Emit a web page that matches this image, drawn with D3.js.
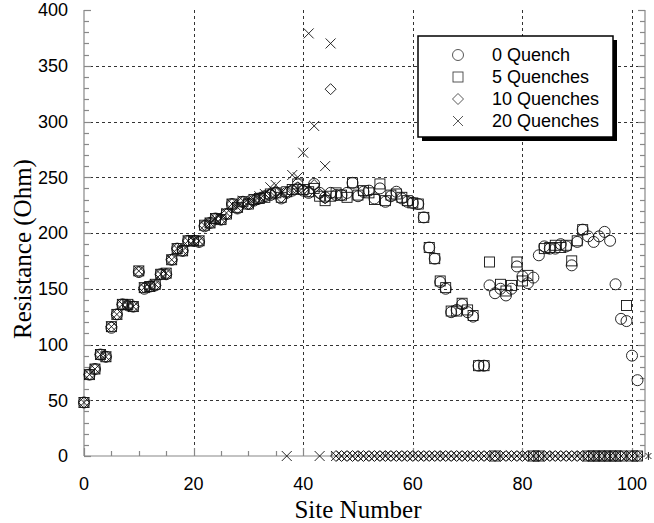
<!DOCTYPE html>
<html>
  <head>
    <meta charset="utf-8" />
    <title>resistance vs site</title>
    <script src="https://d3js.org/d3.v7.min.js"></script>
    <style>
      body { margin: 0; background: #fff; }
      text { font-family: "Liberation Sans", Arial, sans-serif; }
      .title { font-family: "Liberation Serif", "Times New Roman", serif; }
    </style>
  </head>
  <body>
    <script>
      // site numbers 0..101
      const sites = d3.range(0, 102);

      // 0 Quench (circles)
      const q0 = [48, 73, 78, 91, 89, 115, 127, 136, 135, 134, 165, 150, 152, 153, 163, 163, 176, 186, 184, 193,
        193, 192, 206, 209, 213, 212, 217, 226, 222, 228, 226, 229, 231, 233, 234, 236, 231, 236, 238, 240,
        238, 236, 244, 236, 232, 236, 234, 234, 236, 245, 233, 237, 238, 231, 240, 228, 233, 237, 231, 228,
        227, 226, 214, 187, 177, 156, 150, 129, 131, 136, 129, 125, 81, 81, 153, 146, 150, 144, 150, 170,
        161, 155, 160, 180, 188, 186, 186, 190, 188, 171, 192, 203, 197, 192, 197, 201, 193, 154, 123, 121,
        90, 68];

      // 5 Quenches (squares)
      const q5 = [48, 73, 78, 91, 89, 116, 127, 136, 136, 134, 166, 151, 152, 154, 163, 164, 176, 186, 184, 193,
        193, 193, 207, 209, 213, 212, 217, 226, 223, 228, 226, 230, 231, 232, 235, 236, 232, 237, 239, 244,
        239, 237, 240, 233, 229, 233, 236, 234, 232, 245, 234, 238, 236, 230, 244, 229, 234, 235, 232, 229,
        227, 226, 214, 187, 177, 157, 151, 130, 130, 137, 131, 126, 81, 81, 174, 0, 154, 148, 153, 174,
        157, 162, 0, 0, 186, 187, 189, 187, 189, 175, 193, 203, 0, 0, 0, 0, 0, 0, 0, 135,
        0, 0];

      // 10 Quenches (diamonds)
      const q10 = [48, 73, 78, 91, 89, 116, 127, 136, 135, 134, 165, 151, 152, 153, 163, 163, 176, 186, 184, 193,
        193, 192, 207, 209, 213, 212, 217, 226, 222, 228, 226, 229, 231, 233, 235, 237, 232, 236, 239, 241,
        239, 237, 243, 235, 231, 329, 0, 0, 0, 0, 0, 0, 0, 0, 0, 0, 0, 0, 0, 0,
        0, 0, 0, 0, 0, 0, 0, 0, 0, 0, 0, 0, 0, 0, 0, 0, 0, 0, 0, 0,
        0, 0, 0, 0, 0, 0, 0, 0, 0, 0, 0, 0, 0, 0, 0, 0, 0, 0, 0, 0,
        0, 0];

      // 20 Quenches (crosses)
      const q20 = [48, 73, 78, 91, 89, 116, 127, 136, 135, 134, 166, 151, 152, 154, 163, 164, 176, 186, 184, 193,
        193, 193, 207, 209, 213, 213, 218, 226, 223, 229, 227, 230, 233, 235, 241, 243, 236, 0, 252, 250,
        272, 379, 296, 0, 260, 370, 0, 0, 0, 0, 0, 0, 0, 0, 0, 0, 0, 0, 0, 0,
        0, 0, 0, 0, 0, 0, 0, 0, 0, 0, 0, 0, 0, 0, 0, 0, 0, 0, 0, 0,
        0, 0, 0, 0, 0, 0, 0, 0, 0, 0, 0, 0, 0, 0, 0, 0, 0, 0, 0, 0,
        0, 0];

      // one stray point just past the right axis
      const edgeSites = [103];
      const edgeQ20 = [0];

      const legendLabels = ["0 Quench", "5 Quenches", "10 Quenches", "20 Quenches"];
      const xTicks = [0, 20, 40, 60, 80, 100];
      const yTicks = [0, 50, 100, 150, 200, 250, 300, 350, 400];

      const width = 654, height = 523;
      const pLeft = 84, pRight = 645, pTop = 10, pBottom = 456;

      const x = d3.scaleLinear().domain([0, 100]).range([84, 632]);
      const y = d3.scaleLinear().domain([0, 400]).range([pBottom, pTop]);

      const svg = d3.select("body").append("svg")
        .attr("width", width)
        .attr("height", height);

      // grid
      const grid = svg.append("g")
        .attr("stroke", "#333")
        .attr("stroke-width", 1)
        .attr("stroke-dasharray", "3,3");
      grid.selectAll(".vg").data(xTicks.filter(d => d > 0)).enter().append("line")
        .attr("x1", d => Math.round(x(d)) + 0.5).attr("x2", d => Math.round(x(d)) + 0.5)
        .attr("y1", pTop).attr("y2", pBottom);
      grid.selectAll(".hg").data(yTicks.filter(d => d > 0 && d < 400)).enter().append("line")
        .attr("y1", d => Math.round(y(d)) + 0.5).attr("y2", d => Math.round(y(d)) + 0.5)
        .attr("x1", pLeft).attr("x2", pRight);

      // axes frame (left, bottom, right)
      const axisColor = "#888";
      const frame = svg.append("g").attr("stroke", axisColor).attr("stroke-width", 1.2);
      frame.append("line").attr("x1", pLeft).attr("x2", pLeft).attr("y1", pTop).attr("y2", pBottom);
      frame.append("line").attr("x1", pRight).attr("x2", pRight).attr("y1", pTop).attr("y2", pBottom);
      frame.append("line").attr("x1", pLeft).attr("x2", pRight).attr("y1", pBottom).attr("y2", pBottom);

      // y ticks, major every 50, minor every 10, pointing inward on both sides
      d3.range(0, 401, 10).forEach(v => {
        const len = v % 50 === 0 ? 7 : 5;
        const yy = Math.round(y(v)) + 0.5;
        frame.append("line").attr("x1", pLeft).attr("x2", pLeft + len).attr("y1", yy).attr("y2", yy);
        frame.append("line").attr("x1", pRight).attr("x2", pRight - len).attr("y1", yy).attr("y2", yy);
      });
      // x ticks, major every 20, minor every 5
      d3.range(0, 101, 5).forEach(v => {
        const len = v % 20 === 0 ? 8 : 5;
        const xx = Math.round(x(v)) + 0.5;
        frame.append("line").attr("x1", xx).attr("x2", xx).attr("y1", pBottom).attr("y2", pBottom - len);
      });

      // tick labels
      svg.selectAll(".yl").data(yTicks).enter().append("text")
        .attr("x", 68).attr("y", d => y(d))
        .attr("dy", "0.36em")
        .attr("text-anchor", "end")
        .attr("font-size", 18)
        .text(d => d);
      svg.selectAll(".xl").data(xTicks).enter().append("text")
        .attr("x", d => x(d)).attr("y", 490)
        .attr("text-anchor", "middle")
        .attr("font-size", 18)
        .text(d => d);

      // axis titles
      svg.append("text").attr("class", "title")
        .attr("x", 358).attr("y", 518)
        .attr("text-anchor", "middle")
        .attr("font-size", 25)
        .text("Site Number");
      svg.append("text").attr("class", "title")
        .attr("transform", "translate(31,249) rotate(-90)")
        .attr("text-anchor", "middle")
        .attr("font-size", 25)
        .text("Resistance (Ohm)");

      // symbols
      const sym = {
        circle: g => g.append("circle").attr("r", 5.5),
        square: g => g.append("rect").attr("x", -5).attr("y", -5).attr("width", 10).attr("height", 10),
        diamond: g => g.append("path").attr("d", "M0,-5.5L5.5,0L0,5.5L-5.5,0Z"),
        cross: g => g.append("path").attr("d", "M-5,-5L5,5M-5,5L5,-5"),
        star: g => g.append("path").attr("d", "M-3,-3L3,3M-3,3L3,-3M0,-4V4")
      };
      const kinds = ["circle", "square", "diamond", "cross"];

      function drawSeries(xs, vals, kind) {
        const g = svg.append("g")
          .attr("fill", "none")
          .attr("stroke", "#111")
          .attr("stroke-width", 0.9);
        const pts = g.selectAll("g").data(xs.map((s, i) => [s, vals[i]])).enter().append("g")
          .attr("transform", d => `translate(${x(d[0])},${y(d[1])})`);
        pts.each(function () { sym[kind](d3.select(this)); });
      }

      drawSeries(sites, q0, "circle");
      drawSeries(sites, q5, "square");
      drawSeries(sites, q10, "diamond");
      drawSeries(sites, q20, "cross");
      drawSeries(edgeSites, edgeQ20, "star");

      // legend with drop shadow
      const lg = svg.append("g");
      lg.append("rect").attr("x", 422).attr("y", 40).attr("width", 195).attr("height", 101).attr("fill", "#000");
      lg.append("rect").attr("x", 418).attr("y", 36).attr("width", 195).attr("height", 101)
        .attr("fill", "#fff").attr("stroke", "#000").attr("stroke-width", 1.5);
      legendLabels.forEach((lab, i) => {
        const yy = 55 + i * 22;
        const s = lg.append("g")
          .attr("transform", `translate(458,${yy})`)
          .attr("fill", "none").attr("stroke", "#444").attr("stroke-width", 0.9);
        sym[kinds[i]](s);
        lg.append("text")
          .attr("x", 492).attr("y", yy)
          .attr("dy", "0.36em")
          .attr("font-size", 18)
          .text(lab);
      });
    </script>
  </body>
</html>
